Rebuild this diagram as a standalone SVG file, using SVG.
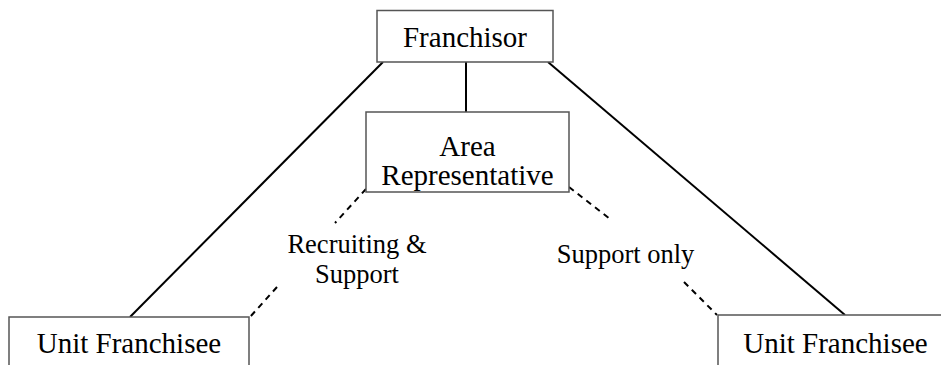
<svg xmlns="http://www.w3.org/2000/svg" width="941" height="365" viewBox="0 0 941 365">
<style>
.box{fill:#fff;stroke:#555;stroke-width:1.5}
.t{font-family:"Liberation Serif","Times New Roman",serif;fill:#000;text-anchor:middle}
.n{font-size:29px}
.l{font-size:26.5px}
.solid{stroke:#000;stroke-width:2;fill:none}
.dash{stroke:#000;stroke-width:2;stroke-dasharray:6 5;fill:none}
</style>
<rect width="941" height="365" fill="#fff"/>
<g id="connectors">
<line class="solid" x1="466" y1="62" x2="466" y2="112" stroke-width="3"/>
<line class="solid" x1="383" y1="62" x2="130" y2="317"/>
<line class="solid" x1="548" y1="62" x2="845" y2="315"/>
<line class="dash" x1="366" y1="189" x2="335" y2="223"/>
<line class="dash" x1="277" y1="287" x2="250" y2="317"/>
<line class="dash" x1="569" y1="187" x2="610" y2="219"/>
<line class="dash" x1="684" y1="282" x2="717" y2="315"/>
</g>
<g id="franchisor">
<rect class="box" x="377" y="10.5" width="176" height="51.5"/>
<text class="t n" x="465" y="47">Franchisor</text>
</g>
<g id="area-rep">
<rect class="box" x="366" y="112" width="203" height="80"/>
<text class="t n" x="467.5" y="156">Area</text>
<text class="t n" x="467.5" y="185">Representative</text>
</g>
<g id="unit-left">
<rect class="box" x="9" y="317" width="240" height="60"/>
<text class="t n" x="129" y="353">Unit Franchisee</text>
</g>
<g id="unit-right">
<rect class="box" x="718" y="315" width="240" height="60"/>
<text class="t n" x="835.5" y="353">Unit Franchisee</text>
</g>
<g id="labels">
<text class="t l" x="357" y="253">Recruiting &amp;</text>
<text class="t l" x="357" y="283">Support</text>
<text class="t l" x="625.5" y="263">Support only</text>
</g>
</svg>
